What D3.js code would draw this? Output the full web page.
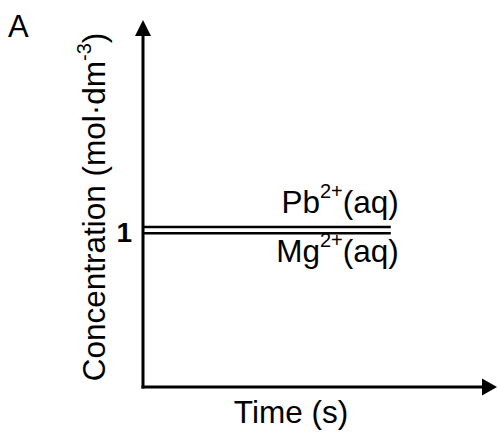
<!DOCTYPE html>
<html>
<head>
<meta charset="utf-8">
<script src="https://cdn.jsdelivr.net/npm/d3@7"></script>
<style>
  body{margin:0;background:#fff;}
  text{font-family:"Liberation Sans",Arial,sans-serif;fill:#000;}
</style>
</head>
<body>
<script>
// data
var times=[0,7]
var pbValues=[1.02,1.02]
var mgValues=[0.98,0.98]
var seriesNames=["Pb","Mg"]
var yTicks=[1]

var screen={width:498,height:432}

//scale
var xScale=d3.scaleLinear()
  .domain([0,10])
  .range([143,497])
var yScale=d3.scaleLinear()
  .domain([0,2.34])
  .range([387,20])

var svg=d3.select("body").append("svg")
  .attr('width',screen.width)
  .attr('height',screen.height)

// axes with arrows
var x0=xScale(0), y0=yScale(0)
var yTop=yScale.range()[1], xEnd=xScale.range()[1]
svg.append("line")
  .attr('x1',x0).attr('y1',y0+1.5)
  .attr('x2',x0).attr('y2',yTop+10)
  .attr('stroke','#000').attr('stroke-width',3)
svg.append("line")
  .attr('x1',x0-1.5).attr('y1',y0)
  .attr('x2',xEnd-10).attr('y2',y0)
  .attr('stroke','#000').attr('stroke-width',3)
svg.append("polygon")
  .attr('points',[[x0,yTop],[x0-8,yTop+16],[x0+8,yTop+16]].join(" "))
  .attr('fill','#000')
svg.append("polygon")
  .attr('points',[[xEnd,y0],[xEnd-15,y0-8.5],[xEnd-15,y0+8.5]].join(" "))
  .attr('fill','#000')

// tick label
var yAxis=d3.axisLeft(yScale)
  .tickValues(yTicks)
  .tickSize(0)
  .tickPadding(11)
  .tickFormat(d3.format("d"))
var ga=svg.append("g")
  .attr('transform','translate('+x0+',0)')
  .call(yAxis)
ga.select(".domain").remove()
ga.selectAll("text")
  .attr('font-size',28)
  .attr('font-weight','bold')
  .attr('font-family','"Liberation Sans",Arial,sans-serif')
  .attr('dy','0.42em')

// lines
var line=d3.line()
  .x(function(d){return xScale(d[0])})
  .y(function(d){return yScale(d[1])})
var data=[pbValues,mgValues]
svg.selectAll(".conc")
  .data(data)
  .enter()
  .append("path")
  .attr('class','conc')
  .attr('d',function(v){return line(times.map(function(t,i){return [t,v[i]]}))})
  .attr('fill','none')
  .attr('stroke','#000')
  .attr('stroke-width',2.5)

// line labels
var labelY=[213,262]
seriesNames.forEach(function(n,i){
  var t=svg.append("text")
    .attr('x',xScale(times[1])+8)
    .attr('y',labelY[i])
    .attr('text-anchor','end')
    .attr('font-size',31.5)
  t.append("tspan").text(n)
  t.append("tspan").attr('font-size',20).attr('dy',-15).text("2+")
  t.append("tspan").attr('dy',15).text("(aq)")
})

// axis titles
svg.append("text")
  .attr('x',291)
  .attr('y',423)
  .attr('text-anchor','middle')
  .attr('font-size',31.5)
  .text("Time (s)")

var yl=svg.append("text")
  .attr('transform','translate(105,207) rotate(-90)')
  .attr('text-anchor','middle')
  .attr('font-size',31.5)
yl.append("tspan").text("Concentration (mol·dm")
yl.append("tspan").attr('font-size',20).attr('dy',-14).text("-3")
yl.append("tspan").attr('dy',14).text(")")

svg.append("text")
  .attr('x',8)
  .attr('y',37)
  .attr('font-size',31)
  .text("A")
</script>
</body>
</html>
